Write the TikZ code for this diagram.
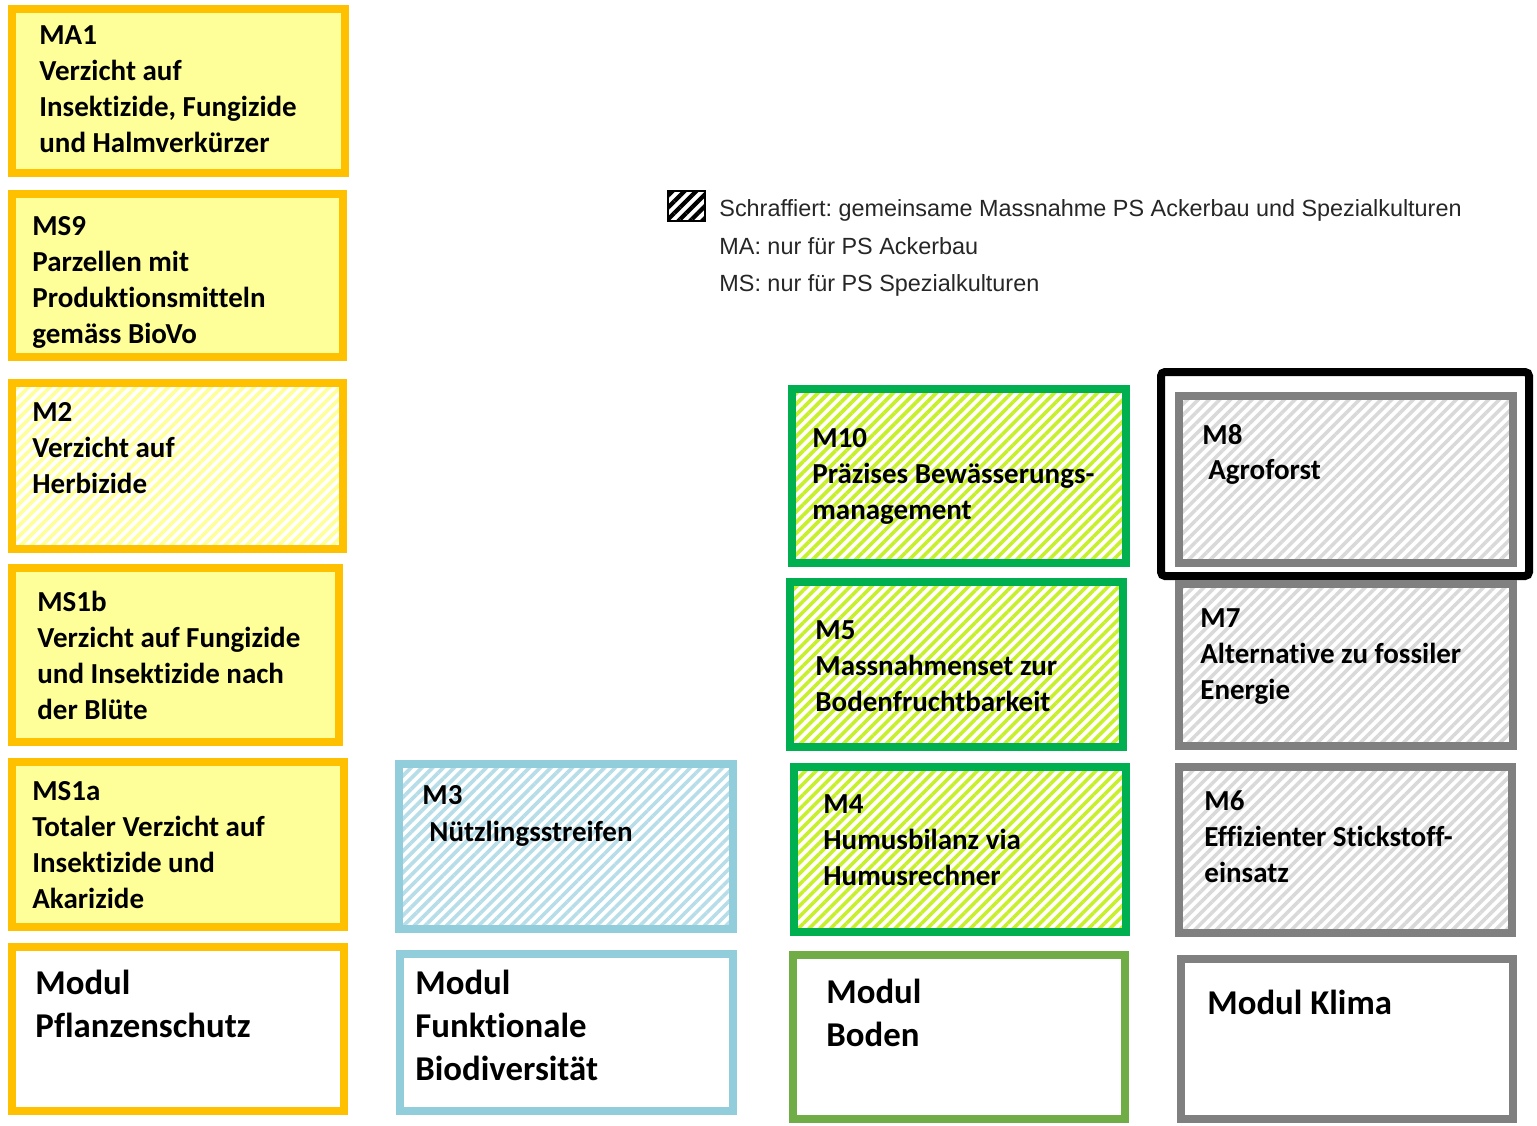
\documentclass[tikz,border=0pt]{standalone}
\usepackage{fontspec}
\setmainfont{Carlito}[Ligatures=NoCommon]
\newfontfamily\legfont{Liberation Sans}
\usetikzlibrary{patterns.meta}
\frenchspacing
\definecolor{cOrange}{HTML}{FFC000}
\definecolor{cYellow}{HTML}{FFFF99}
\definecolor{cHatchY}{HTML}{FFFF99}
\definecolor{cGreen}{HTML}{00B050}
\definecolor{cHatchG}{HTML}{C8F02A}
\definecolor{cBlue}{HTML}{92CDDC}
\definecolor{cHatchB}{HTML}{B7DEE8}
\definecolor{cGray}{HTML}{808080}
\definecolor{cHatchGr}{HTML}{D9D9D9}
\definecolor{cBoden}{HTML}{70AD47}
\tikzset{
  hatch/.style={preaction={fill=white}, pattern={Lines[angle=45,distance=3.8pt,line width=1.8pt]}, pattern color=#1},
  ybox/.style={draw=cOrange, line width=4pt, fill=cYellow},
  yhbox/.style={draw=cOrange, line width=4pt, hatch=cHatchY},
  bhbox/.style={draw=cBlue, line width=4pt, hatch=cHatchB},
  ghbox/.style={draw=cGreen, line width=4pt, hatch=cHatchG},
  grhbox/.style={draw=cGray, line width=4pt, hatch=cHatchGr},
  modbox/.style={draw=#1, line width=4pt, fill=white},
  mtext/.style={anchor=north west, inner sep=0pt, align=left, font=\fontsize{14.5pt}{18pt}\selectfont\bfseries},
  modtext/.style={anchor=north west, inner sep=0pt, align=left, font=\fontsize{17.4pt}{21.5pt}\selectfont\bfseries},
  legtext/.style={anchor=base west, inner sep=0pt, font=\legfont\fontsize{11.7pt}{14pt}\selectfont, text=black!85},
}
\begin{document}
\begin{tikzpicture}[x=0.5pt,y=-0.5pt]
\useasboundingbox (0,0) rectangle (1537,1125);
\fill[white] (0,0) rectangle (1537,1125);

% column 1
\path[ybox]  (12,9) rectangle (345,173);
\path[ybox]  (12,194) rectangle (343,357);
\path[yhbox] (12,383) rectangle (343,549);
\path[ybox]  (12,568) rectangle (339,742);
\path[ybox]  (12,762) rectangle (344,927);
\path[modbox=cOrange] (12,947) rectangle (344,1111);

\node[mtext] (ma1) at (39,25) {MA1\\Verzicht auf\\Insektizide, Fungizide\\und Halmverkürzer};
\node[mtext] (ms9) at (32,216) {MS9\\Parzellen mit\\Produktionsmitteln\\gemäss BioVo};
\node[mtext] (m2) at (32,402) {M2\\Verzicht auf\\Herbizide};
\node[mtext] (ms1b) at (37,591) {MS1b\\Verzicht auf Fungizide\\und Insektizide nach\\der Blüte};
\node[mtext] (ms1a) at (32,781) {MS1a\\Totaler Verzicht auf\\Insektizide und\\Akarizide};
\node[modtext] (modps) at (35,970) {Modul\\Pflanzenschutz};

% column 2
\path[bhbox] (399,764) rectangle (733,929);
\path[modbox=cBlue] (400,954) rectangle (733,1111);
\node[mtext] (m3) at (422,785) {M3};
\node[mtext] (m3b) at (429,821) {Nützlingsstreifen};
\node[modtext] (modfb) at (415,970) {Modul\\Funktionale\\Biodiversität};

% column 3
\path[ghbox] (792,389) rectangle (1126,563);
\path[ghbox] (790,582) rectangle (1123,747);
\path[ghbox] (794,767) rectangle (1126,932);
\path[modbox=cBoden] (793,955) rectangle (1125,1119);
\node[mtext] (m10) at (812,428) {M10\\Präzises Bewässerungs-\\management};
\node[mtext] (m5) at (815,620) {M5\\Massnahmenset zur\\Bodenfruchtbarkeit};
\node[mtext] (m4) at (823,794) {M4\\Humusbilanz via\\Humusrechner};
\node[modtext] (modb) at (826,979) {Modul\\Boden};

% column 4
\draw[line width=4pt, rounded corners=2pt] (1161,372) rectangle (1529,576);
\path[grhbox] (1179,396) rectangle (1513,563);
\path[grhbox] (1179,584) rectangle (1513,746);
\path[grhbox] (1179,767) rectangle (1512,933);
\path[modbox=cGray] (1181,959) rectangle (1513,1119);
\node[mtext] (m8) at (1202,424) {M8};
\node[mtext] (m8b) at (1208,459) {Agroforst};
\node[mtext] (m7) at (1200,608) {M7\\Alternative zu fossiler\\Energie};
\node[mtext] (m6) at (1204,790) {M6\\Effizienter Stickstoff-\\einsatz};
\node[modtext] (modk) at (1207,990) {Modul Klima};

% legend
\path[draw=black, line width=1pt, preaction={fill=white}, pattern={Lines[angle=45,distance=4.2pt,line width=2.1pt]}, pattern color=black] (668,191) rectangle (705,221);
\node[legtext] (l1) at (719,216) {Schraffiert: gemeinsame Massnahme PS Ackerbau und Spezialkulturen};
\node[legtext] (l2) at (719,254) {MA: nur für PS Ackerbau};
\node[legtext] (l3) at (719,291) {MS: nur für PS Spezialkulturen};
\end{tikzpicture}
\end{document}
